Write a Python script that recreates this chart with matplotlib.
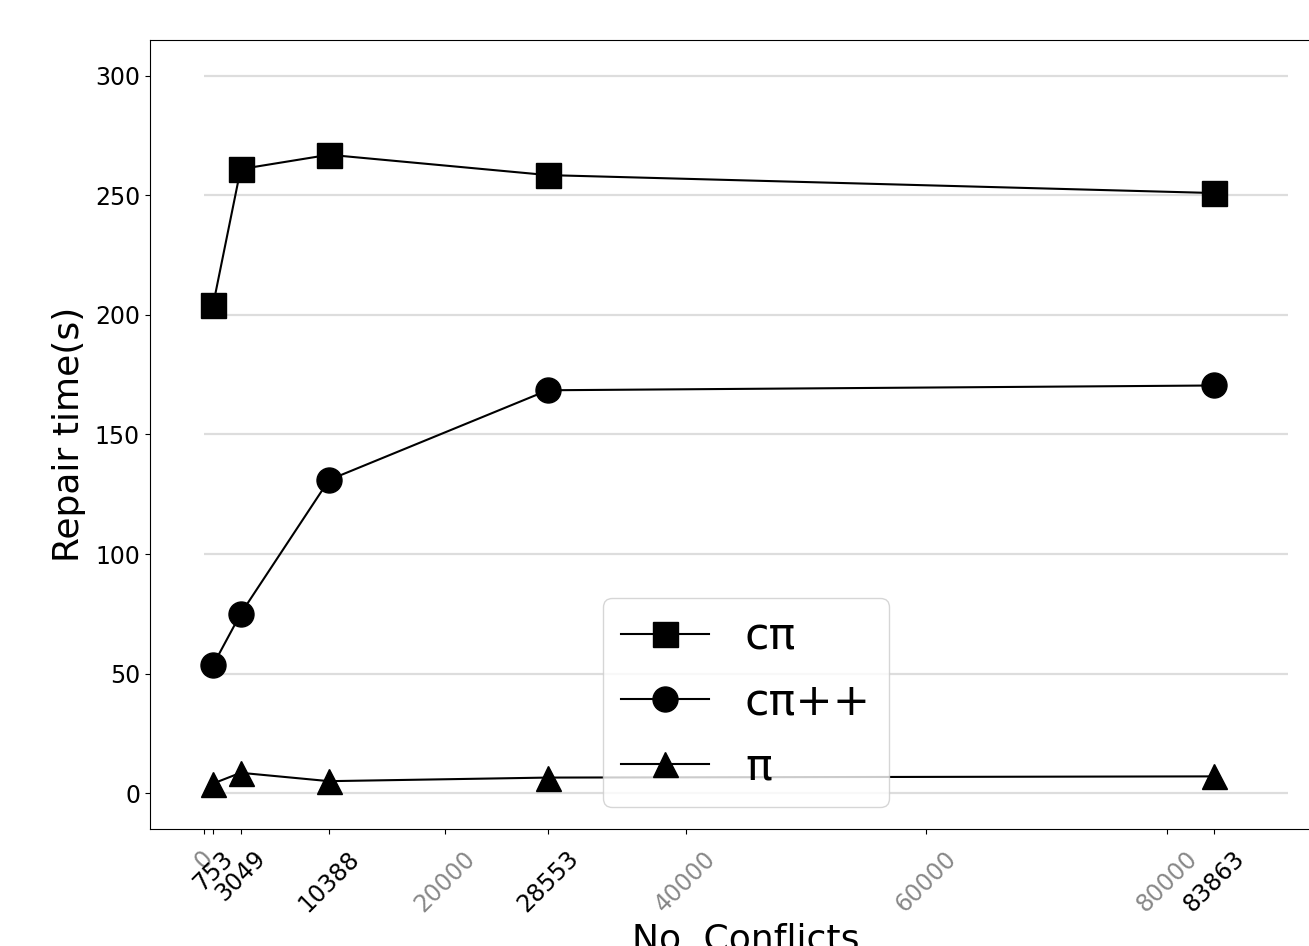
import numpy as np
import matplotlib.pyplot as plt

# conflict counts used in the experiment
conflicts = [753, 3049, 10388, 28553, 83863]

# repair time (s) for each method
cpi = [204, 261, 267, 258.5, 251]
cpi_pp = [53.5, 75, 131, 168.5, 170.5]
pi = [4, 8.5, 5, 6.5, 7]

round_ticks = [0, 20000, 40000, 60000, 80000]
grid_levels = [0, 50, 100, 150, 200, 250, 300]

fig = plt.figure(figsize=(13.09, 9.46), dpi=100)
ax = fig.add_axes([0.1144, 0.1237, 0.9107, 0.834])

# light horizontal guide lines
ax.hlines(grid_levels, 0, 90000, colors='#dddddd', linewidth=1.6, zorder=0)

ax.plot(conflicts, cpi, color='black', marker='s', markersize=18, linewidth=1.5, label='cπ')
ax.plot(conflicts, cpi_pp, color='black', marker='o', markersize=18, linewidth=1.5, label='cπ++')
ax.plot(conflicts, pi, color='black', marker='^', markersize=18, linewidth=1.5, label='π')

ax.set_xlim(-4500, 94500)
ax.set_ylim(-15, 315)

ticks = sorted(round_ticks + conflicts)
ax.set_xticks(ticks)
ax.set_xticklabels([str(t) for t in ticks], rotation=45, fontsize=17)
for lab, t in zip(ax.get_xticklabels(), ticks):
    if t in round_ticks:
        lab.set_color('#888888')
ax.tick_params(axis='x', pad=9)
ax.set_yticks(grid_levels)
ax.tick_params(axis='y', labelsize=17)

ax.set_xlabel('No. Conflicts', fontsize=26)
ax.set_ylabel('Repair time(s)', fontsize=26, labelpad=6)

ax.legend(loc='lower center', fontsize=32, handlelength=2.0)

plt.savefig('out.png', dpi=100)
